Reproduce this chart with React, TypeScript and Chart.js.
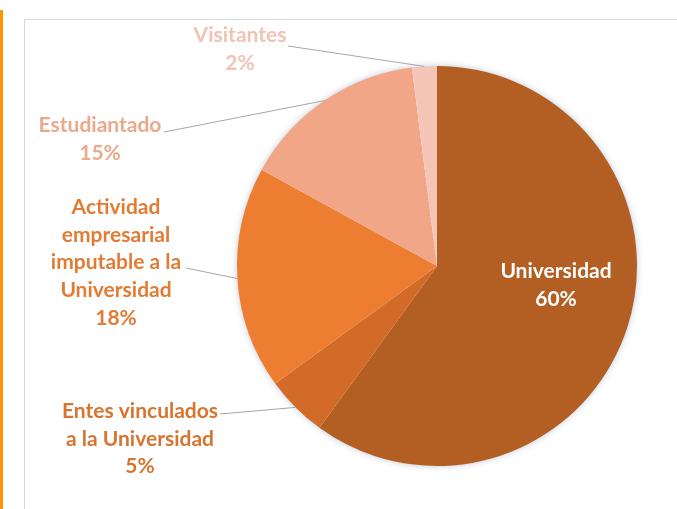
import React, { useEffect, useRef } from "react";
import { Chart, registerables } from "chart.js";

Chart.register(...registerables);

const categories = [
  "Universidad",
  "Entes vinculados a la Universidad",
  "Actividad empresarial imputable a la Universidad",
  "Estudiantado",
  "Visitantes",
];
const values = [60, 5, 18, 15, 2];
const sliceColors = ["#B35E22", "#D26B27", "#ED7D31", "#F1A687", "#F5C6B8"];
const labelColors = ["#FFFFFF", "#D7742F", "#E27B34", "#EBA98C", "#F0C3B4"];
// label lines, as printed
const labelLines = [
  ["Universidad", "60%"],
  ["Entes vinculados", "a la Universidad", "5%"],
  ["Actividad", "empresarial", "imputable a la", "Universidad", "18%"],
  ["Estudiantado", "15%"],
  ["Visitantes", "2%"],
];

// label block centre relative to pie centre (px), and where the leader starts
const labelPlacement = [
  { dx: 119, dy: 19, lx: null as number | null, ly: null as number | null },
  { dx: -297, dy: 173, lx: -217, ly: 148 },
  { dx: -321, dy: -3.5, lx: -251, ly: 2 },
  { dx: -337, dy: -126.5, lx: -273, ly: -134 },
  { dx: -197, dy: -216.5, lx: -149, ly: -220 },
];

const FONT = "bold 21px Lato, 'Open Sans', sans-serif";
const LINE_H = 27.7;

const shadowPlugin = {
  id: "pieShadow",
  beforeDatasetsDraw(chart: any) {
    const arc = chart.getDatasetMeta(0).data[0];
    if (!arc) return;
    const ctx = chart.ctx;
    ctx.save();
    ctx.shadowColor = "rgba(90,120,160,0.45)";
    ctx.shadowBlur = 7;
    ctx.fillStyle = "#ffffff";
    ctx.beginPath();
    ctx.arc(arc.x, arc.y, arc.outerRadius - 0.5, 0, Math.PI * 2);
    ctx.fill();
    ctx.restore();
  },
};

const labelPlugin = {
  id: "pieLabels",
  afterDatasetsDraw(chart: any) {
    const ctx = chart.ctx;
    const meta = chart.getDatasetMeta(0);
    meta.data.forEach((arc: any, i: number) => {
      const p = labelPlacement[i];
      const cx = arc.x;
      const cy = arc.y;
      const mid = (arc.startAngle + arc.endAngle) / 2;
      if (p.lx !== null && p.ly !== null) {
        const ex = cx + Math.cos(mid) * arc.outerRadius;
        const ey = cy + Math.sin(mid) * arc.outerRadius;
        ctx.save();
        ctx.strokeStyle = "#A6A6A6";
        ctx.lineWidth = 1;
        ctx.beginPath();
        ctx.moveTo(cx + p.lx, cy + p.ly);
        ctx.lineTo(ex, ey);
        ctx.stroke();
        ctx.restore();
      }
      const lines = labelLines[i];
      ctx.save();
      ctx.font = FONT;
      ctx.fillStyle = labelColors[i];
      ctx.textAlign = "center";
      ctx.textBaseline = "middle";
      const n = lines.length;
      lines.forEach((t, k) => {
        ctx.fillText(t, cx + p.dx, cy + p.dy + (k - (n - 1) / 2) * LINE_H);
      });
      ctx.restore();
    });
  },
};

export default function App() {
  const ref = useRef<HTMLCanvasElement>(null);
  useEffect(() => {
    if (!ref.current) return;
    const chart = new Chart(ref.current, {
      type: "pie",
      data: {
        labels: categories,
        datasets: [
          {
            data: values,
            backgroundColor: sliceColors,
            borderWidth: 0,
          },
        ],
      },
      options: {
        animation: false,
        responsive: false,
        maintainAspectRatio: false,
        layout: { padding: { left: 237, right: 40, top: 66, bottom: 43 } },
        plugins: {
          legend: { display: false },
          tooltip: { enabled: false },
          title: { display: false },
        },
      },
      plugins: [shadowPlugin, labelPlugin],
    });
    return () => chart.destroy();
  }, []);
  return (
    <div style={{ position: "fixed", left: 0, top: 0, width: 677, height: 509, background: "#fff", overflow: "hidden" }}>
      <div style={{ position: "absolute", left: 0, top: 10, width: 3, height: 499, background: "#FF9300" }} />
      <div
        style={{
          position: "absolute",
          left: 24,
          top: 19,
          width: 680,
          height: 520,
          borderTop: "1px solid #D9D9D9",
          borderLeft: "1px solid #D9D9D9",
          boxSizing: "border-box",
        }}
      />
      <canvas ref={ref} width={677} height={509} style={{ position: "absolute", left: 0, top: 0, width: 677, height: 509 }} />
    </div>
  );
}
